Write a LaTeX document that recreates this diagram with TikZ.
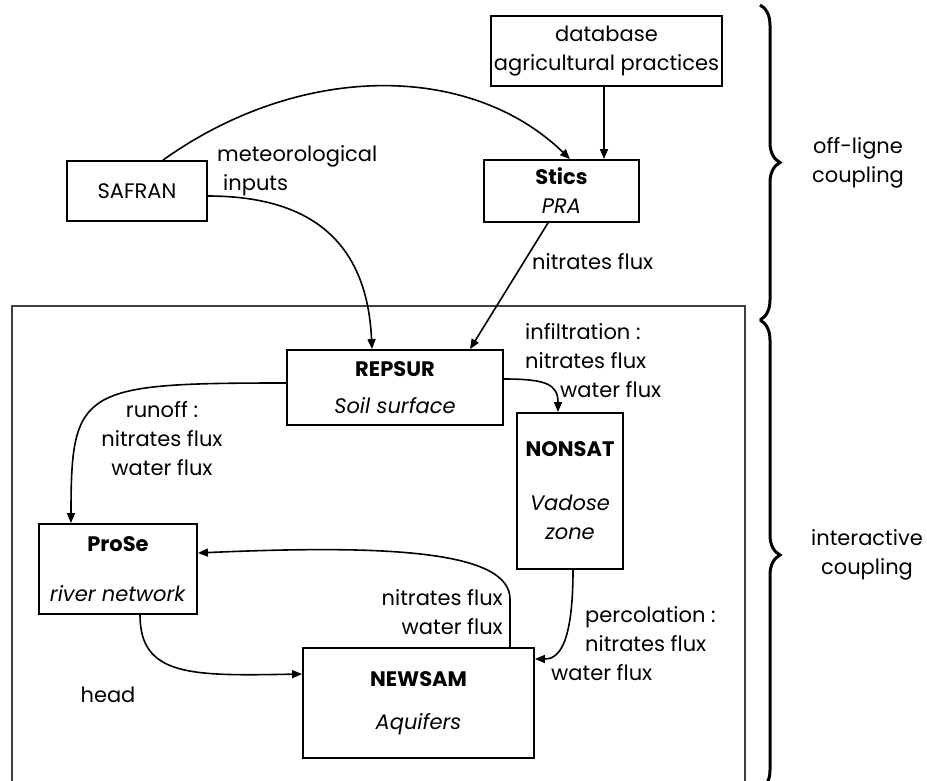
\documentclass[tikz,border=0pt]{standalone}
\usepackage{fontspec}
\setmainfont{Poppins}
\usetikzlibrary{positioning,arrows.meta,decorations.pathreplacing}
\newcommand{\lblfont}{\fontsize{21}{29}\selectfont}

\begin{document}
\begin{tikzpicture}[
    x=1pt, y=-1pt,
    box/.style={draw, line width=1.8pt, inner sep=0pt, align=center, font=\lblfont},
    txt/.style={inner sep=0pt, font=\lblfont},
    arr/.style={-{Triangle[length=10pt,width=8pt]}, line width=1.6pt},
    frame/.style={draw=black!75, line width=1.3pt},
    brc/.style={decorate, decoration={brace, amplitude=20pt}, line width=3pt}
]
  \useasboundingbox (0,0) rectangle (927,780);

  % off-line part
  \node[box, minimum width=140pt, minimum height=60pt] (safran) at (137,191) {SAFRAN};
  \node[box, line width=1.2pt, minimum width=231pt, minimum height=70pt] (db) at (606.5,51) {database\\agricultural practices};
  \node[box, minimum width=155pt, minimum height=62pt] (stics) at (561.5,191) {\textbf{Stics}\\\textit{PRA}};

  % interactive part
  \draw[frame] (12,790) |- (745,306) -- (745,790);
  \node[box, minimum width=216pt, minimum height=75pt] (repsur) at (395,387.5) {\textbf{REPSUR}\\[8pt]\textit{Soil surface}};
  \node[box, minimum width=106pt, minimum height=156pt] (nonsat) at (570,491) {\textbf{NONSAT}\\[25pt]\textit{Vadose}\\\textit{zone}};
  \node[box, minimum width=158pt, minimum height=90pt] (prose) at (118,569) {\textbf{ProSe}\\[21pt]\textit{river network}};
  \node[box, minimum width=231pt, minimum height=110pt] (newsam) at (418.5,703) {\textbf{NEWSAM}\\[14pt]\textit{Aquifers}};

  \draw[arr] ([xshift=26pt]safran.north) .. controls +(137,-98) and +(-100,-97) .. ([xshift=8.5pt]stics.north);
  \draw[arr] ([xshift=-2.5pt]db.south) -- ([xshift=-2.5pt]db.south |- stics.north);
  \draw[arr] ([yshift=-5pt]safran.east) .. controls +(100,0) and +(-5,-110) .. ([xshift=-23pt]repsur.north);
  \draw[arr] ([xshift=-13.5pt]stics.south) -- ([xshift=75pt]repsur.north);
  \draw[arr] ([yshift=4.5pt]repsur.west) .. controls +(-205,0) and +(0,-135) .. ([xshift=-47pt]prose.north);
  \draw[arr] ([yshift=8.5pt]repsur.east) .. controls +(42,0) and +(0,-28) .. ([xshift=-12pt]nonsat.north);
  \draw[arr] ([xshift=3pt]nonsat.south) .. controls +(0,81) and +(21,0) .. ([yshift=44pt]newsam.east);
  \draw[arr] ([xshift=91.5pt]newsam.north) -- ++(0,-48) .. controls +(0,-50) and +(180,-8) .. ([yshift=16pt]prose.east);
  \draw[arr] ([xshift=22pt]prose.south) .. controls +(0,62) and +(-110,2) .. ([yshift=29pt]newsam.west);

  % labels
  \node[txt, anchor=west, align=left] (meteo) at (217,171) {meteorological\\\hspace*{6pt}inputs};
  \node[txt, anchor=west] (nitstics) at (532,262) {nitrates flux};
  \node[txt, anchor=west, align=left] (infil) at (525,361) {infiltration :\\nitrates flux\\\hspace*{35pt}water flux};
  \node[txt, align=center] (runoff) at (162,439) {runoff :\\nitrates flux\\water flux};
  \node[txt, anchor=west, align=left] (perco) at (551,644) {\hspace*{34pt}percolation :\\\hspace*{34pt}nitrates flux\\water flux};
  \node[txt, anchor=east, align=right] (exfil) at (503,612) {nitrates flux\\water flux};
  \node[txt] (head) at (108,695) {head};

  % couplings
  \draw[brc] (760,5) -- (760,320);
  \draw[brc] (760,320) -- (760,790);
  \node[txt, align=center] (offl) at (858,163) {off-ligne\\coupling};
  \node[txt, align=center] (inter) at (867,555) {interactive\\coupling};
\end{tikzpicture}
\end{document}
